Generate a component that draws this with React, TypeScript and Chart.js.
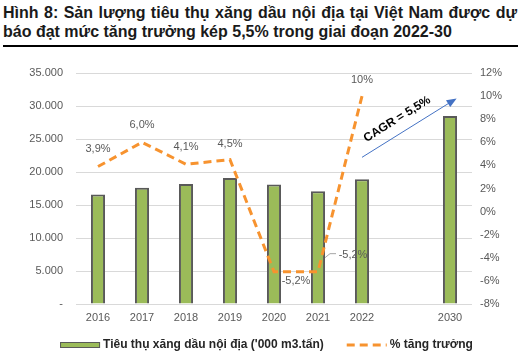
import React, { useEffect, useRef } from 'react';
import { Chart, registerables } from 'chart.js';
Chart.register(...registerables);

const titleLine1 = 'Hình 8: Sản lượng tiêu thụ xăng dầu nội địa tại Việt Nam được dự';
const titleLine2 = 'báo đạt mức tăng trưởng kép 5,5% trong giai đoạn 2022-30';
const categories = ['2016', '2017', '2018', '2019', '2020', '2021', '2022', '', '2030'];
const consumption = [16600, 17600, 18200, 19100, 18100, 17100, 18900, null, 28500];
const growth = [3.9, 6.0, 4.1, 4.5, -5.2, -5.2, 10, null, null];
const growthLabels = ['3,9%', '6,0%', '4,1%', '4,5%', '-5,2%', '-5,2%', '10%', '', ''];
const seriesNames = ["Tiêu thụ xăng dầu nội địa ('000 m3.tấn)", '% tăng trưởng'];
const cagrText = 'CAGR = 5,5%';
const cagrFrom = [6, 4.7];
const cagrTo = [8.15, 9.8];
const cagrTextAt = [6.8, 8.0];

const GREEN = '#9BBB59';
const ORANGE = '#F7932F';
const GRAY = '#595959';
const FONT = '"Liberation Sans", Arial, sans-serif';

const fmtThousands = (v: number) =>
  v === 0 ? '-' : String(v).replace(/\B(?=(\d{3})+(?!\d))/g, '.');

// per-point label offsets (px) relative to the point
const labelOffsets: [number, number][] = [
  [0, -18], [0, -17], [0, -17], [0, -16], [22, 9], [35, -17], [0, -16], [0, 0], [0, 0],
];

const overlayPlugin = {
  id: 'overlay',
  afterDatasetsDraw(chart: any) {
    const ctx = chart.ctx;
    const meta = chart.getDatasetMeta(0);
    ctx.save();
    ctx.font = `11px ${FONT}`;
    ctx.fillStyle = GRAY;
    ctx.textAlign = 'center';
    ctx.textBaseline = 'middle';
    meta.data.forEach((pt: any, i: number) => {
      if (growth[i] == null || !growthLabels[i]) return;
      const [dx, dy] = labelOffsets[i];
      ctx.fillText(growthLabels[i], pt.x + dx, pt.y + dy);
      if (i === 5) {
        ctx.strokeStyle = '#A6A6A6';
        ctx.lineWidth = 1;
        ctx.beginPath();
        ctx.moveTo(pt.x + 7, pt.y - 14);
        ctx.lineTo(pt.x + 12, pt.y - 18);
        ctx.lineTo(pt.x + 18, pt.y - 18);
        ctx.stroke();
      }
    });
    // CAGR arrow
    const xs = chart.scales.x;
    const ys = chart.scales.y1;
    const x1 = xs.getPixelForValue(cagrFrom[0]);
    const y1 = ys.getPixelForValue(cagrFrom[1]);
    const x2 = xs.getPixelForValue(cagrTo[0]);
    const y2 = ys.getPixelForValue(cagrTo[1]);
    const ang = Math.atan2(y2 - y1, x2 - x1);
    ctx.strokeStyle = '#4472C4';
    ctx.fillStyle = '#4472C4';
    ctx.lineWidth = 1;
    ctx.beginPath();
    ctx.moveTo(x1, y1);
    ctx.lineTo(x2 - 8 * Math.cos(ang), y2 - 8 * Math.sin(ang));
    ctx.stroke();
    ctx.beginPath();
    ctx.moveTo(x2, y2);
    ctx.lineTo(x2 - 10 * Math.cos(ang) + 4 * Math.sin(ang), y2 - 10 * Math.sin(ang) - 4 * Math.cos(ang));
    ctx.lineTo(x2 - 10 * Math.cos(ang) - 4 * Math.sin(ang), y2 - 10 * Math.sin(ang) + 4 * Math.cos(ang));
    ctx.closePath();
    ctx.fill();
    const tx = xs.getPixelForValue(cagrTextAt[0]);
    const ty = ys.getPixelForValue(cagrTextAt[1]);
    ctx.translate(tx, ty);
    ctx.rotate(ang);
    ctx.font = `bold 12px ${FONT}`;
    ctx.fillStyle = '#000';
    ctx.textAlign = 'center';
    ctx.textBaseline = 'middle';
    ctx.fillText(cagrText, 0, 0);
    ctx.restore();
  },
  afterDraw(chart: any) {
    const ctx = chart.ctx;
    ctx.save();
    ctx.font = `bold 12px ${FONT}`;
    const w1 = ctx.measureText(seriesNames[0]).width;
    const w2 = ctx.measureText(seriesNames[1]).width;
    const total = 40 + 3 + w1 + 23 + 40 + 3 + w2;
    let x = chart.width / 2 + 6 - total / 2;
    const y = chart.height - 17;
    ctx.fillStyle = GREEN;
    ctx.fillRect(x, y - 3, 40, 6);
    ctx.strokeStyle = GRAY;
    ctx.lineWidth = 1;
    ctx.strokeRect(x + 0.5, y - 3 + 0.5, 39, 5);
    x += 43;
    ctx.fillStyle = '#262626';
    ctx.textBaseline = 'middle';
    ctx.textAlign = 'left';
    ctx.fillText(seriesNames[0], x, y);
    x += w1 + 23;
    ctx.strokeStyle = ORANGE;
    ctx.lineWidth = 3;
    ctx.setLineDash([8, 5]);
    ctx.beginPath();
    ctx.moveTo(x, y);
    ctx.lineTo(x + 40, y);
    ctx.stroke();
    ctx.setLineDash([]);
    x += 43;
    ctx.fillText(seriesNames[1], x, y);
    ctx.restore();
  },
};

export default function App() {
  const ref = useRef<HTMLCanvasElement>(null);
  useEffect(() => {
    if (!ref.current) return;
    const chart = new Chart(ref.current, {
      type: 'bar',
      data: {
        labels: categories,
        datasets: [
          {
            type: 'line',
            label: seriesNames[1],
            data: growth as any,
            yAxisID: 'y1',
            borderColor: ORANGE,
            borderWidth: 3,
            borderDash: [8, 5],
            pointRadius: 0,
            tension: 0,
            spanGaps: false,
            order: 0,
          } as any,
          {
            type: 'bar',
            label: seriesNames[0],
            data: consumption as any,
            yAxisID: 'y',
            backgroundColor: GREEN,
            borderColor: GRAY,
            borderWidth: 2,
            categoryPercentage: 1,
            barPercentage: 0.32,
            order: 1,
          } as any,
        ],
      },
      options: {
        animation: false,
        responsive: false,
        layout: { padding: { top: 23, bottom: 30, left: 0, right: 0 } },
        plugins: { legend: { display: false }, tooltip: { enabled: false } },
        scales: {
          x: {
            grid: { display: false, drawTicks: false },
            border: { display: false },
            ticks: { color: GRAY, font: { size: 11, family: FONT }, padding: 7, autoSkip: false, maxRotation: 0 },
            afterFit: (s: any) => { s.height = 28; },
          },
          y: {
            position: 'left',
            min: 0,
            max: 35000,
            grid: { color: '#D9D9D9', drawTicks: false, lineWidth: 1 },
            border: { display: false },
            ticks: {
              stepSize: 5000,
              color: GRAY,
              font: { size: 11, family: FONT },
              padding: 13,
              callback: (v: any) => fmtThousands(Number(v)),
            },
            afterFit: (s: any) => { s.width = 76; },
          },
          y1: {
            position: 'right',
            min: -8,
            max: 12,
            grid: { display: false, drawTicks: false },
            border: { display: false },
            ticks: {
              stepSize: 2,
              color: GRAY,
              font: { size: 11, family: FONT },
              padding: 8,
              callback: (v: any) => `${v}%`,
            },
            afterFit: (s: any) => { s.width = 49; },
          },
        },
      },
      plugins: [overlayPlugin],
    });
    return () => chart.destroy();
  }, []);

  return (
    <div style={{ position: 'absolute', left: 0, top: 0, width: 521, height: 362, background: '#fff', fontFamily: FONT }}>
      <div style={{ position: 'absolute', left: 3, top: 3, width: 514, fontSize: 16, fontWeight: 'bold', lineHeight: '19px', color: '#1a1a1a' }}>
        <div style={{ whiteSpace: 'nowrap', textAlign: 'justify', textAlignLast: 'justify' as any }}>{titleLine1}</div>
        <div style={{ whiteSpace: 'nowrap' }}>{titleLine2}</div>
      </div>
      <div style={{ position: 'absolute', left: 3, top: 45, width: 515, height: 2, background: '#000' }} />
      <canvas ref={ref} width={521} height={312} style={{ position: 'absolute', left: 0, top: 50, width: 521, height: 312 }} />
    </div>
  );
}
